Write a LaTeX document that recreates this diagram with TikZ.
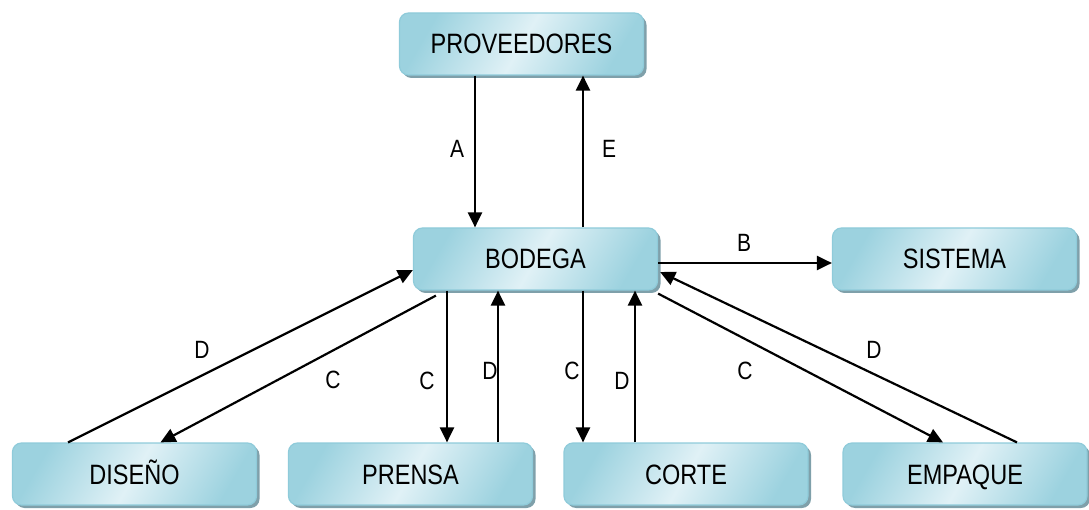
\documentclass[tikz,border=0pt]{standalone}
\usepackage{fontspec}
\setmainfont{Liberation Sans}[FakeStretch=0.84]
\usetikzlibrary{arrows.meta,shadows}
\definecolor{boxedge}{HTML}{8FCBDA}
\definecolor{boxdark}{HTML}{9CD2DF}
\definecolor{boxlight}{HTML}{E0F1F6}
\definecolor{boxshadow}{HTML}{7FA0AA}
\tikzset{
  procbox/.style={rectangle, rounded corners=9pt, minimum width=244pt, minimum height=62pt, inner sep=0pt,
    draw=boxedge, line width=1.2pt,
    left color=boxdark, right color=boxdark, middle color=boxlight, shading angle=60,
    drop shadow={shadow xshift=3pt, shadow yshift=-3pt, fill=boxshadow, opacity=1},
    font=\fontsize{28}{30}\selectfont, text height=20pt, text depth=0pt},
  arr/.style={line width=2.2pt, -{Triangle[length=15pt,width=14pt]}},
  lbl/.style={font=\fontsize{25}{27}\selectfont, inner sep=0pt, text height=18pt, text depth=0pt}
}
\begin{document}
\begin{tikzpicture}[x=1pt,y=-1pt]
\useasboundingbox (0,0) rectangle (1089,510);
\node[procbox] (prov) at (521.5,44) {PROVEEDORES};
\node[procbox] (bod) at (535.5,259) {BODEGA};
\node[procbox] (sist) at (954.5,259) {SISTEMA};
\node[procbox] (dis) at (134.5,474) {DISEÑO};
\node[procbox] (pren) at (410.5,474) {PRENSA};
\node[procbox] (cort) at (686,474) {CORTE};
\node[procbox] (emp) at (965,474) {EMPAQUE};
% A and E
\draw[arr] ([xshift=-46.5pt]prov.south) -- ([xshift=-60.5pt]bod.north);
\draw[arr] ([xshift=47.5pt]bod.north) -- ([xshift=61.5pt]prov.south);
% B
\draw[arr] ([yshift=-4pt]bod.east) -- ([yshift=-4pt]sist.west);
% left diagonals
\draw[arr] ([xshift=-66.5pt]dis.north) -- ([yshift=-11pt]bod.west);
\draw[arr] ([xshift=23pt,yshift=-5pt]bod.south west) -- ([xshift=26pt]dis.north);
% verticals
\draw[arr] ([xshift=-88.5pt]bod.south) -- ([xshift=36.5pt]pren.north);
\draw[arr] ([xshift=87.5pt]pren.north) -- ([xshift=-37.5pt]bod.south);
\draw[arr] ([xshift=47.5pt]bod.south) -- ([xshift=-103pt]cort.north);
\draw[arr] ([xshift=-51pt]cort.north) -- ([xshift=99.5pt]bod.south);
% right diagonals
\draw[arr] ([yshift=-3pt]bod.south east) -- ([xshift=-22pt]emp.north);
\draw[arr] ([xshift=52pt]emp.north) -- ([xshift=2pt,yshift=-13pt]bod.east);
% labels
\node[lbl] (la) at (457,149) {A};
\node[lbl] (le) at (609,149) {E};
\node[lbl] (lb) at (744,243) {B};
\node[lbl] (ld1) at (202,350) {D};
\node[lbl] (lc1) at (333,379) {C};
\node[lbl] (lc2) at (427,380) {C};
\node[lbl] (ld2) at (490,370) {D};
\node[lbl] (lc3) at (572,370) {C};
\node[lbl] (ld3) at (622,380) {D};
\node[lbl] (lc4) at (745,370) {C};
\node[lbl] (ld4) at (874,350) {D};
\end{tikzpicture}
\end{document}
